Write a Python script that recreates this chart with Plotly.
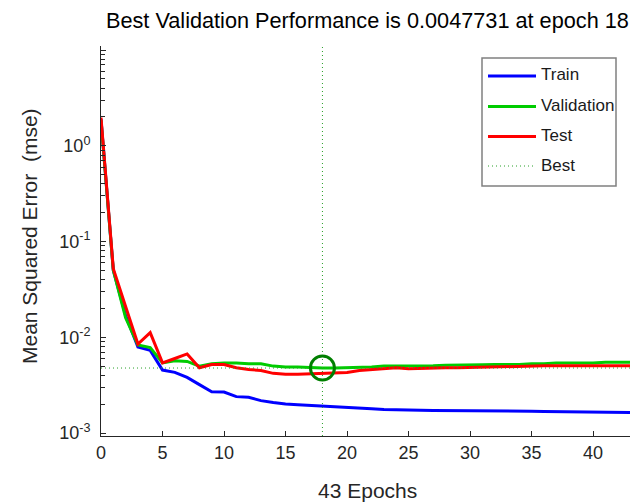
import plotly.graph_objects as go

# Training record: mean squared error per epoch
epochs = list(range(44))
train_mse = [1.90, 0.050, 0.017, 0.0079, 0.0073, 0.00455, 0.00430, 0.00381, 0.00320, 0.00270,
             0.00268, 0.00240, 0.00236, 0.00218, 0.00208, 0.00201, 0.00198, 0.00195, 0.00192, 0.00189,
             0.00187, 0.00185, 0.00179, 0.00176, 0.00174, 0.00173, 0.00173, 0.00172, 0.00172, 0.00171,
             0.00170, 0.00170, 0.00170, 0.00169, 0.00169, 0.00169, 0.00168, 0.00167, 0.00167, 0.00167,
             0.00166, 0.00165, 0.00165, 0.00164]
validation_mse = [1.85, 0.050, 0.016, 0.0083, 0.0078, 0.0054, 0.0057, 0.0056, 0.0050, 0.0053,
                  0.0054, 0.0054, 0.0053, 0.0053, 0.0050, 0.0049, 0.0049, 0.0048, 0.0047731, 0.00478,
                  0.0048, 0.0049, 0.0049, 0.0050, 0.0050, 0.0050, 0.0050, 0.00505, 0.0051, 0.0051,
                  0.0051, 0.00515, 0.0052, 0.0052, 0.0052, 0.0053, 0.0053, 0.0054, 0.0054, 0.0054,
                  0.0054, 0.0055, 0.0055, 0.0055]
test_mse = [1.97, 0.052, 0.021, 0.0085, 0.0112, 0.0054, 0.0060, 0.0067, 0.0048, 0.0052,
            0.0052, 0.0048, 0.0046, 0.0045, 0.0042, 0.0041, 0.0041, 0.00415, 0.0042, 0.00423,
            0.0043, 0.0045, 0.0046, 0.0047, 0.0048, 0.0047, 0.00475, 0.00475, 0.0048, 0.0048,
            0.00484, 0.0049, 0.0049, 0.00498, 0.0050, 0.0050, 0.00503, 0.00503, 0.00503, 0.00503,
            0.00503, 0.00503, 0.00503, 0.00503]
best_epoch = 18
best_perf = 0.0047731
n_epochs = 43

x_ticks = [0, 5, 10, 15, 20, 25, 30, 35, 40]
y_major = [1e-3, 1e-2, 1e-1, 1e0, 1e1]
y_major_text = ["10<sup>-3</sup>", "10<sup>-2</sup>", "10<sup>-1</sup>", "10<sup>0</sup>", ""]
y_minor = [m * d for d in (1e-3, 1e-2, 1e-1, 1e0) for m in range(2, 10)]

legend_names = ["Train", "Validation", "Test", "Best"]

BLUE = "rgb(0,0,255)"
GREEN = "rgb(0,204,0)"
RED = "rgb(255,0,0)"
BEST = "rgb(40,160,40)"
CIRCLE = "rgb(0,127,0)"
AXC = "#262626"
FONT = "Liberation Sans, Arial, Helvetica, sans-serif"
DOTS = "1px,3px"

W, H = 632, 503
L, R, T, B = 101, 2, 46, 67
PW, PH = W - L - R, H - T - B


def px(x):
    return (x - L) / PW


def py(y):
    return (H - B - y) / PH


fig = go.Figure()
fig.add_trace(go.Scatter(x=epochs, y=train_mse, mode="lines", line=dict(color=BLUE, width=3),
                         name=legend_names[0], showlegend=False))
fig.add_trace(go.Scatter(x=epochs, y=validation_mse, mode="lines", line=dict(color=GREEN, width=3),
                         name=legend_names[1], showlegend=False))
fig.add_trace(go.Scatter(x=epochs, y=test_mse, mode="lines", line=dict(color=RED, width=3),
                         name=legend_names[2], showlegend=False))
# best-epoch guide lines
fig.add_trace(go.Scatter(x=[0, n_epochs], y=[best_perf, best_perf], mode="lines",
                         line=dict(color=BEST, width=1, dash=DOTS), showlegend=False,
                         hoverinfo="skip"))
fig.add_trace(go.Scatter(x=[best_epoch, best_epoch], y=[10 ** -3.031, 10 ** 1.042], mode="lines",
                         line=dict(color=BEST, width=1, dash=DOTS), showlegend=False,
                         hoverinfo="skip"))
fig.add_trace(go.Scatter(x=[best_epoch], y=[best_perf], mode="markers",
                         marker=dict(symbol="circle-open", size=24, color=CIRCLE,
                                     line=dict(width=3, color=CIRCLE)),
                         showlegend=False))

fig.update_xaxes(range=[0, n_epochs], tickmode="array", tickvals=x_ticks,
                 ticks="inside", ticklen=5, tickcolor=AXC, showline=True, linecolor=AXC,
                 linewidth=1, showgrid=False, zeroline=False,
                 tickfont=dict(family=FONT, size=18, color=AXC))
fig.update_yaxes(type="log", range=[-3.031, 1.042], tickmode="array", tickvals=y_major,
                 ticktext=y_major_text, ticks="inside", ticklen=5, tickcolor=AXC,
                 showline=True, linecolor=AXC, linewidth=1, showgrid=False, zeroline=False,
                 tickfont=dict(family=FONT, size=18, color=AXC), ticklabelstandoff=6,
                 minor=dict(tickmode="array", tickvals=y_minor, ticks="inside", ticklen=4,
                            tickcolor=AXC, showgrid=False))

annotations = [
    dict(text="Best Validation Performance is 0.0047731 at epoch 18", x=px(367.5), y=py(20),
         xref="paper", yref="paper", showarrow=False, xanchor="center", yanchor="middle",
         font=dict(family=FONT, size=21.7, color="black")),
    dict(text="43 Epochs", x=px(367), y=py(490), xref="paper", yref="paper", showarrow=False,
         xanchor="center", yanchor="middle", font=dict(family=FONT, size=21, color=AXC)),
    dict(text="Mean Squared Error  (mse)", x=px(29), y=py(236), xref="paper", yref="paper",
         showarrow=False, xanchor="center", yanchor="middle", textangle=-90,
         font=dict(family=FONT, size=21, color=AXC)),
]

# legend box
shapes = [dict(type="rect", xref="paper", yref="paper", x0=px(482), x1=px(616), y0=py(58),
               y1=py(186), line=dict(color="#808080", width=1.5), fillcolor="white", layer="above")]
legend_rows = [75, 105.5, 135.5, 165]
legend_styles = [(BLUE, 3, "solid"), (GREEN, 3, "solid"), (RED, 3, "solid"), (BEST, 1, DOTS)]
for name, row, (col, wdt, dsh) in zip(legend_names, legend_rows, legend_styles):
    shapes.append(dict(type="line", xref="paper", yref="paper", x0=px(488), x1=px(536),
                       y0=py(row + 1), y1=py(row + 1), line=dict(color=col, width=wdt, dash=dsh),
                       layer="above"))
    annotations.append(dict(text=name, x=px(539), y=py(row), xref="paper", yref="paper",
                            showarrow=False, xanchor="left", yanchor="middle",
                            font=dict(family=FONT, size=17, color="#1a1a1a")))

fig.update_layout(width=W, height=H, autosize=False,
                  margin=dict(l=L, r=R, t=T, b=B, pad=0),
                  paper_bgcolor="white", plot_bgcolor="white",
                  annotations=annotations, shapes=shapes, showlegend=False)

fig.write_html("out.html")
